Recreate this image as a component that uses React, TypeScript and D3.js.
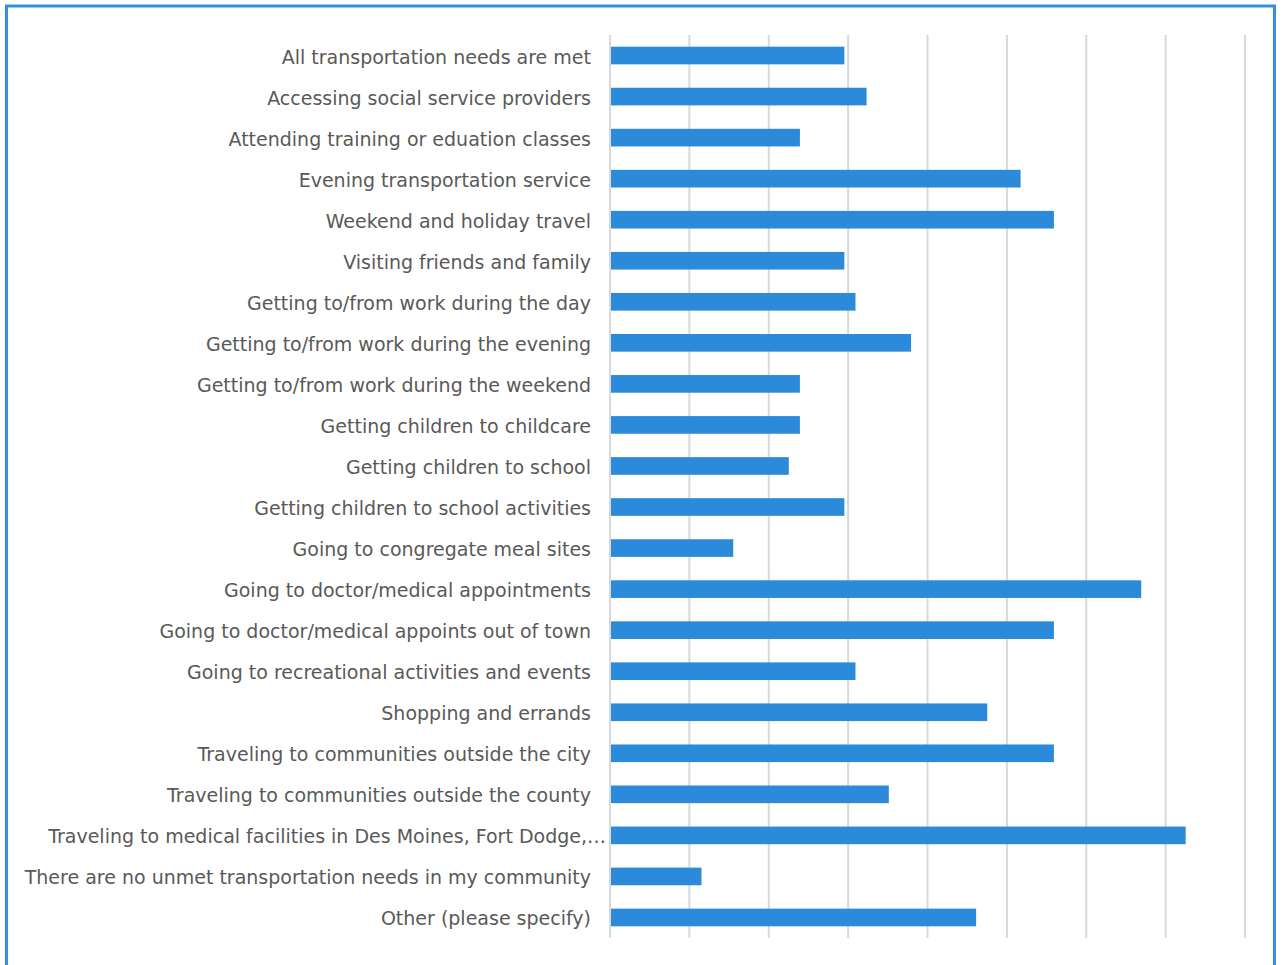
import React from "react";
import * as d3 from "d3";

// Share of respondents (%) naming each unmet transportation need
const categories: string[] = [
  "All transportation needs are met",
  "Accessing social service providers",
  "Attending training or eduation classes",
  "Evening transportation service",
  "Weekend and holiday travel",
  "Visiting friends and family",
  "Getting to/from work during the day",
  "Getting to/from work during the evening",
  "Getting to/from work during the weekend",
  "Getting children to childcare",
  "Getting children to school",
  "Getting children to school activities",
  "Going to congregate meal sites",
  "Going to doctor/medical appointments",
  "Going to doctor/medical appoints out of town",
  "Going to recreational activities and events",
  "Shopping and errands",
  "Traveling to communities outside the city",
  "Traveling to communities outside the county",
  "Traveling to medical facilities in Des Moines, Fort Dodge,…",
  "There are no unmet transportation needs in my community",
  "Other (please specify)",
];

const values: number[] = [
  14.7, 16.1, 11.9, 25.8, 27.9, 14.7, 15.4, 18.9, 11.9, 11.9, 11.2,
  14.7, 7.7, 33.4, 27.9, 15.4, 23.7, 27.9, 17.5, 36.2, 5.7, 23.0,
];

const gridTicks: number[] = [0, 5, 10, 15, 20, 25, 30, 35, 40];

const W = 1284;
const H = 965;
const plotLeft = 610;
const plotRight = 1245;
const plotTop = 35;
const plotBottom = 938;

export default function App() {
  const x = d3.scaleLinear().domain([0, 40]).range([plotLeft, plotRight]);
  const y = d3
    .scaleBand<string>()
    .domain(categories)
    .range([plotTop, plotBottom])
    .paddingInner(0.57)
    .paddingOuter(0.285);

  const labelFont = "'DejaVu Sans', sans-serif";

  return (
    <svg
      width={W}
      height={H}
      style={{ position: "absolute", left: 0, top: 0, background: "#fff" }}
    >
      <rect
        x={6.5}
        y={6}
        width={1268}
        height={1000}
        fill="#fff"
        stroke="#3490de"
        strokeWidth={3}
      />
      {gridTicks.map((t) => (
        <line
          key={t}
          x1={x(t)}
          x2={x(t)}
          y1={plotTop}
          y2={plotBottom}
          stroke="#d9d9d9"
          strokeWidth={2}
        />
      ))}
      {categories.map((c, i) => (
        <rect
          key={c}
          x={x(0) + 1}
          y={y(c)}
          width={x(values[i]) - x(0)}
          height={y.bandwidth()}
          fill="#2b8ad9"
        />
      ))}
      {categories.map((c) => {
        const truncated = c.endsWith("…");
        return (
          <text
            key={c}
            x={truncated ? 606 : 591}
            y={(y(c) ?? 0) + y.bandwidth() / 2}
            dy="0.42em"
            textAnchor="end"
            fontFamily={labelFont}
            fontSize={19}
            fill="#595959"
          >
            {c}
          </text>
        );
      })}
    </svg>
  );
}
